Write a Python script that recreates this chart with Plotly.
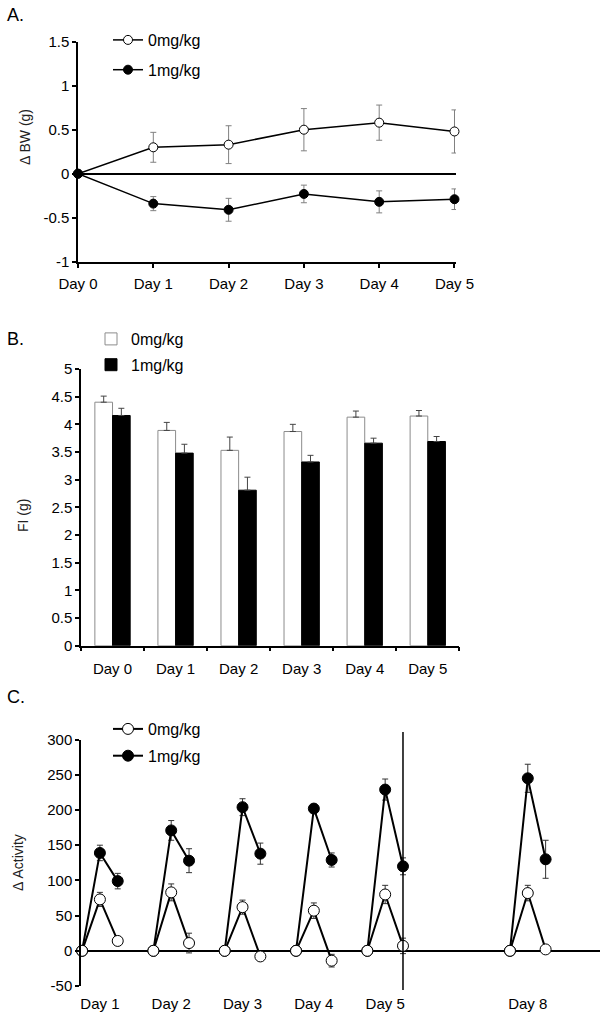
import plotly.graph_objects as go

W, H = 606, 1017

# ---------------- Panel A data (Δ body weight, g) ----------------
days_a = ["Day 0", "Day 1", "Day 2", "Day 3", "Day 4", "Day 5"]
bw_0 = [0, 0.30, 0.33, 0.50, 0.58, 0.48]
bw_0_err = [0, 0.17, 0.215, 0.24, 0.20, 0.245]
bw_1 = [0, -0.34, -0.41, -0.23, -0.32, -0.29]
bw_1_err = [0, 0.08, 0.13, 0.10, 0.125, 0.117]
ticks_a = [-1, -0.5, 0, 0.5, 1, 1.5]
ticktext_a = ["-1", "-0.5", "0", "0.5", "1", "1.5"]

# ---------------- Panel B data (food intake, g) ----------------
days_b = ["Day 0", "Day 1", "Day 2", "Day 3", "Day 4", "Day 5"]
fi_0 = [4.40, 3.89, 3.53, 3.87, 4.13, 4.15]
fi_0_err = [0.11, 0.145, 0.24, 0.13, 0.11, 0.10]
fi_1 = [4.16, 3.48, 2.81, 3.32, 3.66, 3.69]
fi_1_err = [0.13, 0.16, 0.235, 0.12, 0.09, 0.09]
ticks_b = [0, 0.5, 1, 1.5, 2, 2.5, 3, 3.5, 4, 4.5, 5]

# ---------------- Panel C data (Δ activity) ----------------
days_c = ["Day 1", "Day 2", "Day 3", "Day 4", "Day 5", "Day 8"]
group_pos = [0, 4, 8, 12, 16, 24]
act_0_peak = [73, 83, 62, 57, 80, 82]
act_0_peak_err = [10, 12, 10, 11, 13, 11]
act_0_end = [14, 11, -8, -14, 7, 2]
act_0_end_err = [6, 14, 3, 9, 11, 3]
act_1_peak = [139, 171, 204, 202, 229, 245]
act_1_peak_err = [11, 14, 12, 6, 15, 20]
act_1_end = [99, 128, 138, 129, 120, 130]
act_1_end_err = [11, 17, 15, 10, 12, 27]
ticks_c = [-50, 0, 50, 100, 150, 200, 250, 300]

FONT = "Arial, Liberation Sans, sans-serif"
TICK_FS = 15
LEG_FS = 16


def series_c(peaks, peak_err, ends, end_err):
    xs, ys, es = [], [], []
    for g, p, pe, e, ee in zip(group_pos, peaks, peak_err, ends, end_err):
        xs += [g, g + 1, g + 2, None]
        ys += [0, p, e, None]
        es += [0, pe, ee, 0]
    return xs, ys, es


def px_x(p):
    return p / W


def px_y(p):
    return 1 - p / H


fig = go.Figure()

# ---- Panel A ----
xa = list(range(len(days_a)))
fig.add_trace(go.Scatter(
    x=xa, y=bw_0, mode="lines+markers", name="0mg/kg",
    line=dict(color="black", width=1.5),
    marker=dict(symbol="circle", size=9, color="white", line=dict(color="black", width=1)),
    error_y=dict(type="data", array=bw_0_err, color="#808080", thickness=1, width=3),
    xaxis="x", yaxis="y", legend="legend", legendgroup="a0", cliponaxis=False))
fig.add_trace(go.Scatter(
    x=xa, y=bw_1, mode="lines+markers", name="1mg/kg",
    line=dict(color="black", width=1.5),
    marker=dict(symbol="circle", size=9, color="black", line=dict(color="black", width=1)),
    error_y=dict(type="data", array=bw_1_err, color="#808080", thickness=1, width=3),
    xaxis="x", yaxis="y", legend="legend", legendgroup="a1", cliponaxis=False))

# ---- Panel B ----
fig.add_trace(go.Bar(
    x=days_b, y=fi_0, name="0mg/kg",
    marker=dict(color="white", line=dict(color="#8c8c8c", width=1)),
    error_y=dict(type="data", symmetric=False, array=fi_0_err, arrayminus=[0] * len(fi_0),
                 color="#444444", thickness=1, width=3),
    xaxis="x2", yaxis="y2", legend="legend2", legendgroup="b0"))
fig.add_trace(go.Bar(
    x=days_b, y=fi_1, name="1mg/kg",
    marker=dict(color="black", line=dict(color="black", width=1)),
    error_y=dict(type="data", symmetric=False, array=fi_1_err, arrayminus=[0] * len(fi_1),
                 color="#444444", thickness=1, width=3),
    xaxis="x2", yaxis="y2", legend="legend2", legendgroup="b1"))

# ---- Panel C ----
x1, y1, e1 = series_c(act_1_peak, act_1_peak_err, act_1_end, act_1_end_err)
x0, y0, e0 = series_c(act_0_peak, act_0_peak_err, act_0_end, act_0_end_err)
fig.add_trace(go.Scatter(
    x=x1, y=y1, mode="lines+markers", name="1mg/kg",
    line=dict(color="black", width=2), connectgaps=False,
    marker=dict(symbol="circle", size=11, color="black", line=dict(color="black", width=1)),
    error_y=dict(type="data", array=e1, color="#333333", thickness=1, width=3),
    xaxis="x3", yaxis="y3", legend="legend3", legendgroup="c1", legendrank=2, cliponaxis=False))
fig.add_trace(go.Scatter(
    x=x0, y=y0, mode="lines+markers", name="0mg/kg",
    line=dict(color="black", width=2), connectgaps=False,
    marker=dict(symbol="circle", size=11, color="white", line=dict(color="black", width=1)),
    error_y=dict(type="data", array=e0, color="#333333", thickness=1, width=3),
    xaxis="x3", yaxis="y3", legend="legend3", legendgroup="c0", legendrank=1, cliponaxis=False))

axis_common = dict(showgrid=False, showline=True, linecolor="black", linewidth=1.5,
                   tickcolor="black", tickwidth=1.5, ticks="outside", automargin=False,
                   tickfont=dict(family=FONT, size=TICK_FS, color="black"))

legend_common = dict(xanchor="left", yanchor="top", bgcolor="rgba(0,0,0,0)",
                     font=dict(family=FONT, size=LEG_FS, color="black"),
                     traceorder="grouped", borderwidth=0)

fig.update_layout(
    template="none",
    width=W, height=H,
    margin=dict(l=0, r=0, t=0, b=0, pad=0, autoexpand=False),
    paper_bgcolor="white", plot_bgcolor="white",
    font=dict(family=FONT, size=14, color="black"),
    showlegend=True,
    barmode="group", bargap=0.44, bargroupgap=0,
    xaxis=dict(axis_common, domain=[px_x(78), px_x(456)], range=[0, 5.02],
               tickvals=xa, ticktext=days_a, ticklen=5, ticklabelstandoff=3,
               zeroline=False, anchor="y"),
    yaxis=dict(axis_common, domain=[px_y(261.7), px_y(41.7)], range=[-1, 1.5],
               tickvals=ticks_a, ticktext=ticktext_a, ticklen=4,
               zeroline=True, zerolinecolor="black", zerolinewidth=1.5, anchor="x"),
    xaxis2=dict(axis_common, domain=[px_x(81), px_x(459.3)], type="category",
                tickson="boundaries", ticklen=4, ticklabelstandoff=9, anchor="y2"),
    yaxis2=dict(axis_common, domain=[px_y(645.7), px_y(369)], range=[0, 5],
                tickvals=ticks_b, ticktext=[str(t) for t in ticks_b], ticklen=4,
                zeroline=False, anchor="x2"),
    xaxis3=dict(axis_common, domain=[px_x(81), px_x(600)], range=[-0.06, 29.05],
                showline=False, ticks="", tickvals=[g + 1 for g in group_pos],
                ticktext=days_c, ticklabelstandoff=7, zeroline=False, anchor="y3"),
    yaxis3=dict(axis_common, domain=[px_y(986), px_y(739.6)], range=[-50, 300],
                tickvals=ticks_c, ticktext=[str(t) for t in ticks_c], ticklen=4,
                zeroline=True, zerolinecolor="black", zerolinewidth=1.5, anchor="x3"),
    legend=dict(legend_common, x=px_x(108), y=px_y(23), tracegroupgap=6),
    legend2=dict(legend_common, x=px_x(91), y=px_y(322), tracegroupgap=2),
    legend3=dict(legend_common, x=px_x(108), y=px_y(712), tracegroupgap=3),
    shapes=[dict(type="line", xref="x3", yref="y3 domain", x0=18, x1=18,
                 y0=-0.016, y1=1.031, line=dict(color="black", width=1.5))],
    annotations=[
        dict(text="A.", x=px_x(5), y=px_y(15), xref="paper", yref="paper",
             xanchor="left", yanchor="middle", showarrow=False,
             font=dict(family=FONT, size=18, color="black")),
        dict(text="B.", x=px_x(5), y=px_y(339), xref="paper", yref="paper",
             xanchor="left", yanchor="middle", showarrow=False,
             font=dict(family=FONT, size=18, color="black")),
        dict(text="C.", x=px_x(5), y=px_y(697), xref="paper", yref="paper",
             xanchor="left", yanchor="middle", showarrow=False,
             font=dict(family=FONT, size=18, color="black")),
        dict(text="Δ BW (g)", x=px_x(25), y=px_y(137), xref="paper", yref="paper",
             textangle=-90, showarrow=False, xanchor="center", yanchor="middle",
             font=dict(family=FONT, size=14, color="#222222")),
        dict(text="FI (g)", x=px_x(23), y=px_y(516), xref="paper", yref="paper",
             textangle=-90, showarrow=False, xanchor="center", yanchor="middle",
             font=dict(family=FONT, size=14, color="#222222")),
        dict(text="Δ Activity", x=px_x(18), y=px_y(863), xref="paper", yref="paper",
             textangle=-90, showarrow=False, xanchor="center", yanchor="middle",
             font=dict(family=FONT, size=14, color="#222222")),
    ],
)

fig.write_html("out.html", config={"displayModeBar": False},
               post_script="document.body.style.margin='0';")
